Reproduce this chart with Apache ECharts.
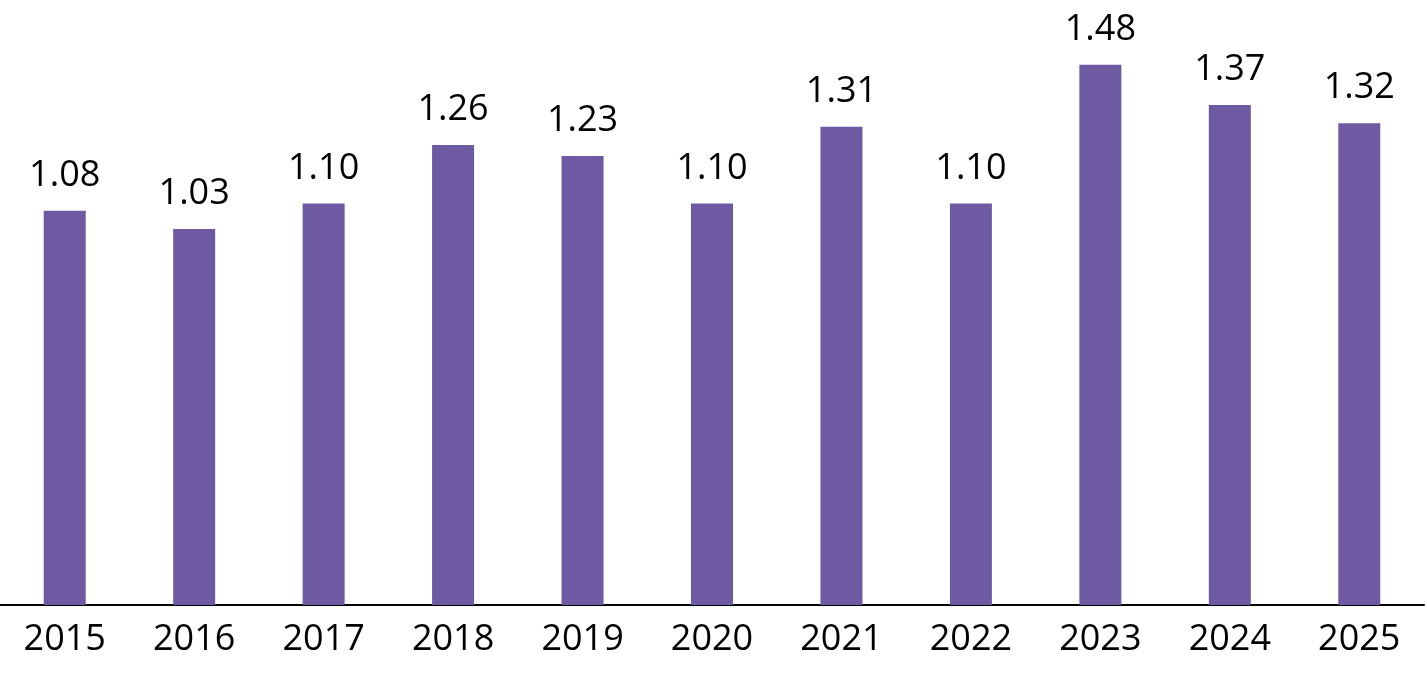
<!DOCTYPE html>
<html>
<head>
<meta charset="utf-8">
<script src="https://cdn.jsdelivr.net/npm/echarts@6/dist/echarts.min.js"></script>
<style>
  html, body { margin: 0; padding: 0; background: #fff; }
  #chart { width: 1427px; height: 676px; }
</style>
</head>
<body>
<div id="chart"></div>
<script>
var years = ['2015', '2016', '2017', '2018', '2019', '2020', '2021', '2022', '2023', '2024', '2025'];
var values = [1.08, 1.03, 1.10, 1.26, 1.23, 1.10, 1.31, 1.10, 1.48, 1.37, 1.32];
var valueLabels = ['1.08', '1.03', '1.10', '1.26', '1.23', '1.10', '1.31', '1.10', '1.48', '1.37', '1.32'];

var myChart = echarts.init(document.getElementById('chart'));

var option = {
    animation: false,
    textStyle: { fontFamily: 'Open Sans' },
    grid: {
        left: -4,
        right: 3,
        top: 21,
        bottom: 71
    },
    xAxis: {
        type: 'category',
        data: years,
        axisLine: { show: true, lineStyle: { color: '#000', width: 2 } },
        axisTick: { show: false },
        axisLabel: {
            color: '#000',
            fontSize: 36,
            fontFamily: 'Open Sans',
            margin: 17
        }
    },
    yAxis: {
        type: 'value',
        min: 0,
        max: 1.6,
        show: false,
        splitLine: { show: false }
    },
    series: [{
        type: 'bar',
        data: values,
        barWidth: 42,
        itemStyle: { color: '#6e5aa2' },
        label: {
            show: true,
            position: 'top',
            distance: 17,
            color: '#000',
            fontSize: 36,
            fontFamily: 'Open Sans',
            formatter: function (p) {
                return valueLabels[p.dataIndex];
            }
        }
    }]
};

myChart.setOption(option);
</script>
</body>
</html>
